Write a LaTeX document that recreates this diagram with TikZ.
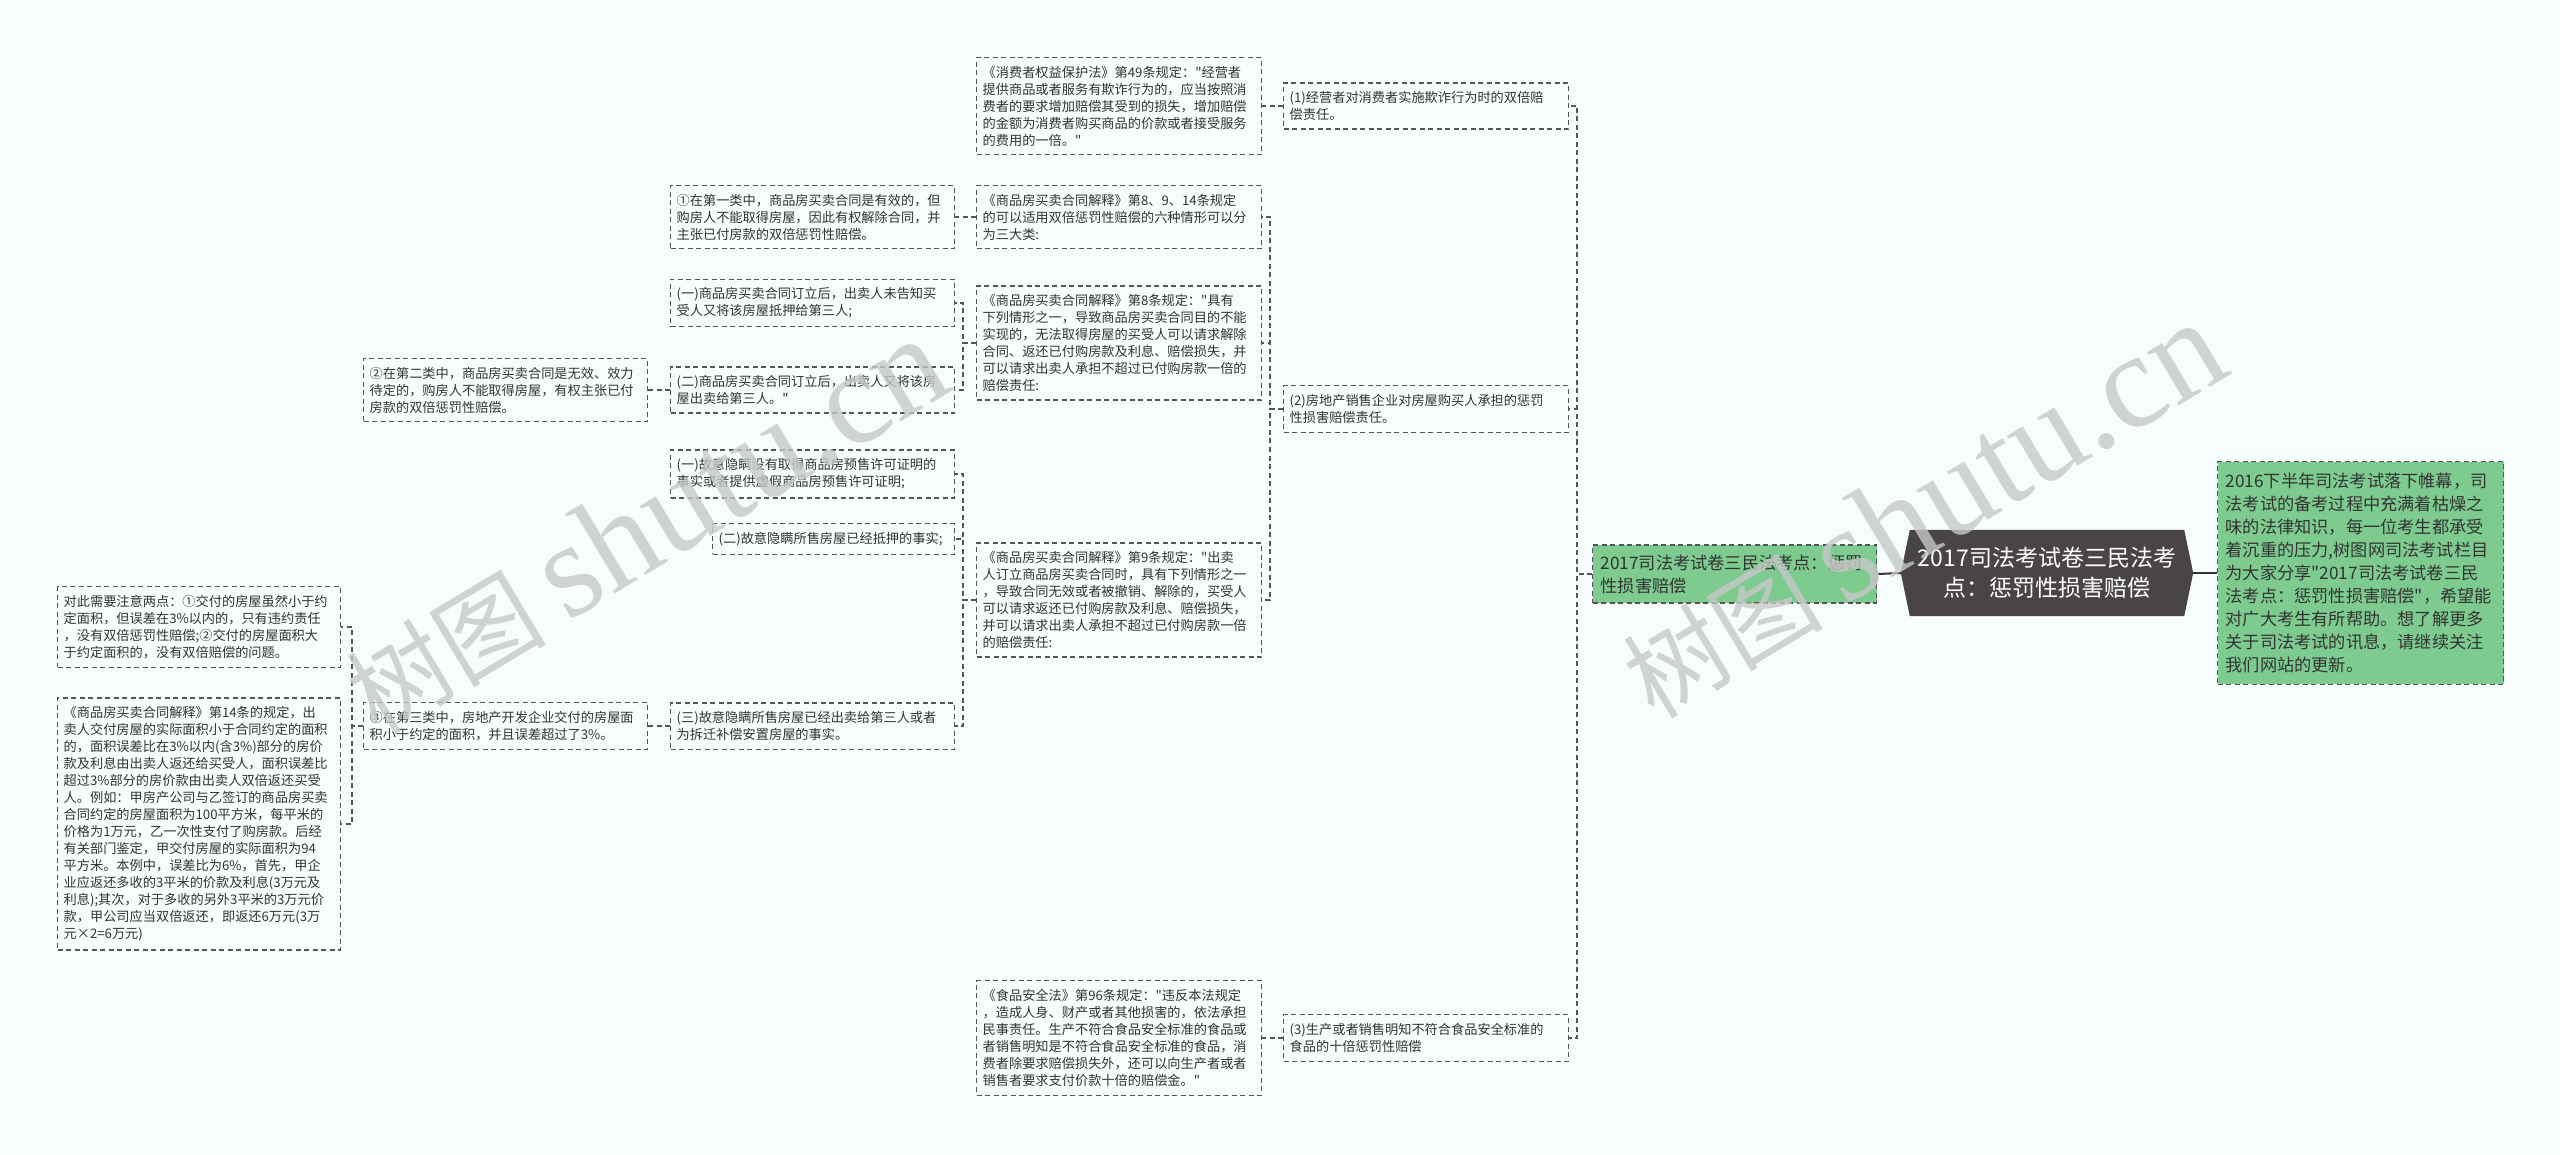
\documentclass[tikz,border=0pt]{standalone}
\usepackage{fontspec}
\setmainfont{Noto Sans CJK SC}
\newfontfamily\cjk{Noto Sans CJK SC}
\newfontfamily\wmserif{Liberation Serif}
\pgfdeclarelayer{base}
\pgfdeclarelayer{bg}
\pgfsetlayers{base,bg,main}
\definecolor{pagebg}{HTML}{F7FCFD}
\definecolor{txt}{HTML}{333333}
\definecolor{bord}{HTML}{555555}
\definecolor{leaf}{HTML}{7DCB8F}
\definecolor{rootc}{HTML}{4A4545}
\definecolor{wm}{HTML}{C8C8C8}
\tikzset{
  box/.style={draw=bord, line width=1.3pt, dash pattern=on 5pt off 3.5pt, fill=pagebg, text=txt,
    font=\cjk\fontsize{13.2}{17}\selectfont, align=left, inner xsep=6pt, inner ysep=8.5pt,
    anchor=west, text width=#1},
  box/.default=272pt,
  greenbox/.style={draw=bord, line width=1.3pt, dash pattern=on 5pt off 3.5pt, fill=leaf, text=txt,
    font=\cjk\fontsize{17.2}{23}\selectfont, align=left, inner xsep=8pt, inner ysep=11.5pt,
    anchor=west, text width=#1},
  rootnode/.style={text=white, font=\cjk\fontsize{23}{30}\selectfont, align=center,
    minimum width=292pt, minimum height=86pt, inner sep=0pt},
  conn/.style={draw=bord, line width=1.3pt, dash pattern=on 5pt off 3.5pt},
  solidconn/.style={draw=txt, line width=2pt},
  wmark/.style={text=wm, text opacity=0.8, font=\cjk\fontsize{100}{110}\selectfont, inner sep=0pt}
}
\begin{document}
\begin{tikzpicture}[x=1pt,y=-1pt]
\path[use as bounding box] (0,0) rectangle (2560,1155);
\begin{pgfonlayer}{base}
\fill[pagebg] (0,0) rectangle (2560,1155);
\end{pgfonlayer}

% trunk x positions
\coordinate (tA) at (352,0);
\coordinate (tB) at (658,0);
\coordinate (tC) at (963,0);
\coordinate (tD) at (1270,0);
\coordinate (tE) at (1577,0);

% root and right side
\node[rootnode] (root) at (2047,573) {2017司法考试卷三民法考\\点：惩罚性损害赔偿};
\begin{pgfonlayer}{bg}
\fill[rootc] ([xshift=9pt]root.north west) -- ([xshift=-9pt]root.north east) -- (root.east)
  -- ([xshift=-9pt]root.south east) -- ([xshift=9pt]root.south west) -- (root.west) -- cycle;
\end{pgfonlayer}
\node[greenbox=270pt] (nR) at (2217,573) {2016下半年司法考试落下帷幕，司\\法考试的备考过程中充满着枯燥之\\味的法律知识，每一位考生都承受\\着沉重的压力,树图网司法考试栏目\\为大家分享"2017司法考试卷三民\\法考点：惩罚性损害赔偿"，希望能\\对广大考生有所帮助。想了解更多\\关于司法考试的讯息，请继续关注\\我们网站的更新。};
\node[greenbox=268pt, inner ysep=9.5pt] (nL) at (1592,574) {2017司法考试卷三民法考点：惩罚\\性损害赔偿};

% column E
\node[box=273pt] (nP1) at (1283,106) {(1)经营者对消费者实施欺诈行为时的双倍赔\\偿责任。};
\node[box=273pt] (nP2) at (1283,409) {(2)房地产销售企业对房屋购买人承担的惩罚\\性损害赔偿责任。};
\node[box=273pt] (nP3) at (1283,1038) {(3)生产或者销售明知不符合食品安全标准的\\食品的十倍惩罚性赔偿};

% column D
\node[box=273pt] (nLaw49) at (976,106) {《消费者权益保护法》第49条规定："经营者\\提供商品或者服务有欺诈行为的，应当按照消\\费者的要求增加赔偿其受到的损失，增加赔偿\\的金额为消费者购买商品的价款或者接受服务\\的费用的一倍。"};
\node[box=273pt] (nArt) at (976,217) {《商品房买卖合同解释》第8、9、14条规定\\的可以适用双倍惩罚性赔偿的六种情形可以分\\为三大类:};
\node[box=273pt] (nA8) at (976,343) {《商品房买卖合同解释》第8条规定："具有\\下列情形之一，导致商品房买卖合同目的不能\\实现的，无法取得房屋的买受人可以请求解除\\合同、返还已付购房款及利息、赔偿损失，并\\可以请求出卖人承担不超过已付购房款一倍的\\赔偿责任:};
\node[box=273pt] (nA9) at (976,600) {《商品房买卖合同解释》第9条规定："出卖\\人订立商品房买卖合同时，具有下列情形之一\\，导致合同无效或者被撤销、解除的，买受人\\可以请求返还已付购房款及利息、赔偿损失，\\并可以请求出卖人承担不超过已付购房款一倍\\的赔偿责任:};
\node[box=273pt] (nFood) at (976,1038) {《食品安全法》第96条规定："违反本法规定\\，造成人身、财产或者其他损害的，依法承担\\民事责任。生产不符合食品安全标准的食品或\\者销售明知是不符合食品安全标准的食品，消\\费者除要求赔偿损失外，还可以向生产者或者\\销售者要求支付价款十倍的赔偿金。"};

% column C
\node[box] (n1st) at (670,217) {①在第一类中，商品房买卖合同是有效的，但\\购房人不能取得房屋，因此有权解除合同，并\\主张已付房款的双倍惩罚性赔偿。};
\node[box] (n8a) at (670,303) {(一)商品房买卖合同订立后，出卖人未告知买\\受人又将该房屋抵押给第三人;};
\node[box] (n8b) at (670,390) {(二)商品房买卖合同订立后，出卖人又将该房\\屋出卖给第三人。"};
\node[box] (n9a) at (670,474) {(一)故意隐瞒没有取得商品房预售许可证明的\\事实或者提供虚假商品房预售许可证明;};
\node[box=230pt] (n9b) at (712,539) {(二)故意隐瞒所售房屋已经抵押的事实;};
\node[box] (n9c) at (670,726) {(三)故意隐瞒所售房屋已经出卖给第三人或者\\为拆迁补偿安置房屋的事实。};

% column B
\node[box] (n2nd) at (363,390) {②在第二类中，商品房买卖合同是无效、效力\\待定的，购房人不能取得房屋，有权主张已付\\房款的双倍惩罚性赔偿。};
\node[box] (n3rd) at (363,726) {③在第三类中，房地产开发企业交付的房屋面\\积小于约定的面积，并且误差超过了3\%。};

% column A
\node[box=271pt] (nDui) at (57,627) {对此需要注意两点：①交付的房屋虽然小于约\\定面积，但误差在3\%以内的，只有违约责任\\，没有双倍惩罚性赔偿;②交付的房屋面积大\\于约定面积的，没有双倍赔偿的问题。};
\node[box=271pt] (n14) at (57,824) {《商品房买卖合同解释》第14条的规定，出\\卖人交付房屋的实际面积小于合同约定的面积\\的，面积误差比在3\%以内(含3\%)部分的房价\\款及利息由出卖人返还给买受人，面积误差比\\超过3\%部分的房价款由出卖人双倍返还买受\\人。例如：甲房产公司与乙签订的商品房买卖\\合同约定的房屋面积为100平方米，每平米的\\价格为1万元，乙一次性支付了购房款。后经\\有关部门鉴定，甲交付房屋的实际面积为94\\平方米。本例中，误差比为6\%，首先，甲企\\业应返还多收的3平米的价款及利息(3万元及\\利息);其次，对于多收的另外3平米的3万元价\\款，甲公司应当双倍返还，即返还6万元(3万\\元×2=6万元)};

% connectors
\draw[solidconn] (nL.east) -- (root.west);
\draw[solidconn] (root.east) -- (nR.west);
\foreach \c in {nP1,nP2,nP3}
  \draw[conn] (nL.west) -- (nL.west -| tE) |- (\c.east);
\draw[conn] (nP1.west) -- (nP1.west -| tD) |- (nLaw49.east);
\foreach \c in {nArt,nA8,nA9}
  \draw[conn] (nP2.west) -- (nP2.west -| tD) |- (\c.east);
\draw[conn] (nP3.west) -- (nP3.west -| tD) |- (nFood.east);
\draw[conn] (nArt.west) -- (nArt.west -| tC) |- (n1st.east);
\foreach \c in {n8a,n8b}
  \draw[conn] (nA8.west) -- (nA8.west -| tC) |- (\c.east);
\foreach \c in {n9a,n9b,n9c}
  \draw[conn] (nA9.west) -- (nA9.west -| tC) |- (\c.east);
\draw[conn] (n8b.west) -- (n8b.west -| tB) |- (n2nd.east);
\draw[conn] (n9c.west) -- (n9c.west -| tB) |- (n3rd.east);
\foreach \c in {nDui,n14}
  \draw[conn] (n3rd.west) -- (n3rd.west -| tA) |- (\c.east);

% watermarks
\node[wmark, rotate=31] (wm1) at (645,526) {树图 {\wmserif\fontsize{135}{140}\selectfont shutu.cn}};
\node[wmark, rotate=31] (wm2) at (1922,510) {树图 {\wmserif\fontsize{135}{140}\selectfont shutu.cn}};
\end{tikzpicture}
\end{document}
